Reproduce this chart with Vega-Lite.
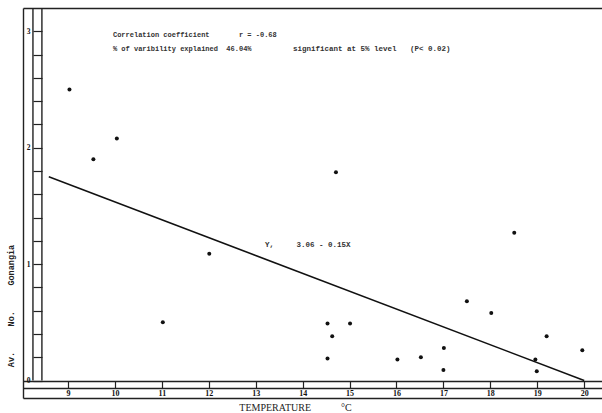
{
  "$schema": "https://vega.github.io/schema/vega-lite/v6.json",
  "width": 579,
  "height": 390,
  "autosize": {"type": "none"},
  "padding": {"left": 23, "top": 8, "right": 0, "bottom": 15},
  "background": "white",
  "config": {
    "view": {"stroke": null},
    "axis": {"grid": false, "domainColor": "#222", "domainWidth": 1.4, "tickColor": "#222", "tickWidth": 1.2, "labelColor": "#111", "titleColor": "#222"}
  },
  "datasets": {
    "points": [
      {"temp": 9.03, "gonangia": 2.50},
      {"temp": 10.04, "gonangia": 2.08},
      {"temp": 9.54, "gonangia": 1.90},
      {"temp": 12.01, "gonangia": 1.09},
      {"temp": 11.02, "gonangia": 0.50},
      {"temp": 14.71, "gonangia": 1.79},
      {"temp": 18.51, "gonangia": 1.27},
      {"temp": 14.53, "gonangia": 0.49},
      {"temp": 15.01, "gonangia": 0.49},
      {"temp": 14.63, "gonangia": 0.38},
      {"temp": 14.53, "gonangia": 0.19},
      {"temp": 16.02, "gonangia": 0.18},
      {"temp": 16.52, "gonangia": 0.20},
      {"temp": 17.01, "gonangia": 0.28},
      {"temp": 17.0, "gonangia": 0.09},
      {"temp": 17.5, "gonangia": 0.68},
      {"temp": 18.02, "gonangia": 0.58},
      {"temp": 18.96, "gonangia": 0.18},
      {"temp": 18.99, "gonangia": 0.08},
      {"temp": 19.2, "gonangia": 0.38},
      {"temp": 19.96, "gonangia": 0.26}
    ],
    "fit": [
      {"temp": 8.59, "gonangia": 1.75},
      {"temp": 20.0, "gonangia": 0.0}
    ],
    "one": [{}]
  },
  "layer": [
    {
      "data": {"name": "points"},
      "mark": {"type": "circle", "size": 16, "color": "#111", "opacity": 1},
      "encoding": {
        "x": {
          "field": "temp", "type": "quantitative",
          "scale": {"domain": [8.04, 20.38], "nice": false, "zero": false},
          "axis": {"orient": "bottom", "offset": -17, "values": [9, 10, 11, 12, 13, 14, 15, 16, 17, 18, 19, 20], "tickSize": 7, "labelPadding": 1, "labelFont": "Liberation Serif", "labelFontWeight": "bold", "labelFontSize": 8, "title": null}
        },
        "y": {
          "field": "gonangia", "type": "quantitative",
          "scale": {"domain": [-0.15, 3.2], "nice": false, "zero": false},
          "axis": {"orient": "left", "offset": -19, "domain": false, "values": [0, 0.2, 0.4, 0.6, 0.8, 1, 1.2, 1.4, 1.6, 1.8, 2, 2.2, 2.4, 2.6, 2.8, 3], "tickSize": 9, "labelPadding": 3, "labelExpr": "datum.value % 1 == 0 ? format(datum.value, 'd') : ''", "labelFont": "Liberation Serif", "labelFontWeight": "bold", "labelFontSize": 7.5, "title": null}
        }
      }
    },
    {
      "data": {"name": "fit"},
      "mark": {"type": "line", "color": "#111", "strokeWidth": 1.5},
      "encoding": {
        "x": {
          "field": "temp", "type": "quantitative",
          "scale": {"domain": [8.04, 20.38], "nice": false, "zero": false},
          "axis": {"orient": "bottom", "offset": 0, "ticks": false, "labels": false, "title": "TEMPERATURE\u00a0\u00a0\u00a0\u00a0\u00a0\u00a0\u00a0\u00a0\u00a0\u00a0\u00a0\u00a0°C", "titleFont": "Liberation Serif", "titleFontWeight": "normal", "titleFontSize": 10, "titlePadding": 4, "titleX": 272, "titleAlign": "center"}
        },
        "y": {
          "field": "gonangia", "type": "quantitative",
          "scale": {"domain": [-0.15, 3.2], "nice": false, "zero": false},
          "axis": {"orient": "left", "offset": 0, "ticks": false, "labels": false, "title": "Av.\u00a0\u00a0\u00a0\u00a0\u00a0No.\u00a0\u00a0\u00a0\u00a0\u00a0Gonangia", "titleFont": "Liberation Mono", "titleFontWeight": "bold", "titleFontSize": 8.5, "titlePadding": 8, "titleY": 297.5, "titleAlign": "center"}
        }
      }
    },
    {
      "data": {"name": "one"},
      "mark": {"type": "text", "align": "left", "baseline": "middle", "font": "Liberation Mono", "fontSize": 7, "fontWeight": "bold", "color": "#333"},
      "encoding": {
        "x": {"datum": 9.957, "type": "quantitative", "axis": {"orient": "top", "offset": 0, "ticks": false, "labels": false, "title": null}},
        "y": {"datum": 2.967, "type": "quantitative", "axis": null},
        "text": {"value": "Correlation coefficient\u00a0\u00a0\u00a0\u00a0\u00a0\u00a0\u00a0r = -0.68"}
      }
    },
    {
      "data": {"name": "one"},
      "mark": {"type": "text", "align": "left", "baseline": "middle", "font": "Liberation Mono", "fontSize": 7, "fontWeight": "bold", "color": "#333"},
      "encoding": {
        "x": {"datum": 9.957, "type": "quantitative", "axis": {"orient": "bottom", "offset": -10, "ticks": false, "labels": false, "title": null}},
        "y": {"datum": 2.85, "type": "quantitative", "axis": null},
        "text": {"value": "% of varibility explained\u00a0\u00a046.04%"}
      }
    },
    {
      "data": {"name": "one"},
      "mark": {"type": "text", "align": "left", "baseline": "middle", "font": "Liberation Mono", "fontSize": 7.5, "fontWeight": "bold", "color": "#333"},
      "encoding": {
        "x": {"datum": 13.795, "type": "quantitative", "axis": null},
        "y": {"datum": 2.85, "type": "quantitative", "axis": null},
        "text": {"value": "significant at 5% level\u00a0\u00a0\u00a0(P< 0.02)"}
      }
    },
    {
      "data": {"name": "one"},
      "mark": {"type": "text", "align": "left", "baseline": "middle", "font": "Liberation Mono", "fontSize": 7.5, "fontWeight": "bold", "color": "#333"},
      "encoding": {
        "x": {"datum": 13.198, "type": "quantitative", "axis": null},
        "y": {"datum": 1.165, "type": "quantitative", "axis": null},
        "text": {"value": "Y,\u00a0\u00a0\u00a0\u00a0\u00a03.06 - 0.15X"}
      }
    },
    {
      "data": {"name": "one"},
      "mark": {"type": "rule", "color": "#222", "strokeWidth": 1.4},
      "encoding": {
        "x": {"datum": 8.252, "type": "quantitative", "axis": null},
        "y": {"datum": 0, "type": "quantitative", "axis": null},
        "y2": {"datum": 3.2}
      }
    },
    {
      "data": {"name": "one"},
      "mark": {"type": "rule", "color": "#222", "strokeWidth": 1.4},
      "encoding": {
        "x": {"datum": 8.443, "type": "quantitative", "axis": null},
        "y": {"datum": 0, "type": "quantitative", "axis": null},
        "y2": {"datum": 3.2}
      }
    }
  ],
  "resolve": {"axis": {"x": "independent", "y": "independent"}}
}
